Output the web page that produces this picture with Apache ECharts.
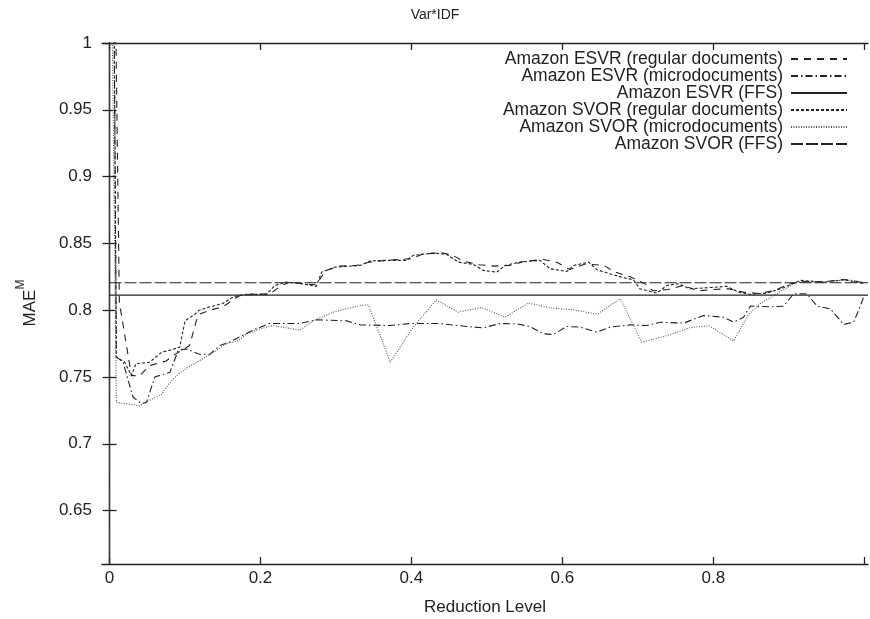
<!DOCTYPE html>
<html>
<head>
<meta charset="utf-8">
<script src="https://cdn.jsdelivr.net/npm/echarts@6/dist/echarts.min.js"></script>
<style>
  html, body { margin: 0; padding: 0; background: #fff; }
  #chart { width: 870px; height: 619px; }
</style>
</head>
<body>
<div id="chart"></div>
<script>
// tick positions (the "1" label sits on the cropped right edge in the original)
const xTicks = [0, 0.2, 0.4, 0.6, 0.8, 1];
const xLabels = [0, 0.2, 0.4, 0.6, 0.8];
const yTicks = [0.65, 0.7, 0.75, 0.8, 0.85, 0.9, 0.95, 1];

const seriesNames = [
  'Amazon ESVR (regular documents)',
  'Amazon ESVR (microdocuments)',
  'Amazon ESVR (FFS)',
  'Amazon SVOR (regular documents)',
  'Amazon SVOR (microdocuments)',
  'Amazon SVOR (FFS)'
];

// [reduction level, MAE]
const esvrRegular = [
  [0.004, 1.2], [0.013, 0.806], [0.029, 0.751], [0.04, 0.751], [0.053, 0.7585], [0.075, 0.762],
  [0.084, 0.766], [0.106, 0.7735], [0.115, 0.792], [0.119, 0.797], [0.133, 0.800], [0.15, 0.8025],
  [0.1725, 0.811], [0.19, 0.812], [0.212, 0.812], [0.228, 0.8185], [0.239, 0.821], [0.26, 0.8195],
  [0.274, 0.819], [0.286, 0.8295], [0.305, 0.833], [0.327, 0.8335], [0.345, 0.836], [0.372, 0.8375],
  [0.40, 0.8385], [0.415, 0.842], [0.44, 0.843], [0.455, 0.841], [0.47, 0.8365], [0.49, 0.834],
  [0.51, 0.833], [0.53, 0.8335], [0.55, 0.8365], [0.575, 0.838], [0.592, 0.836], [0.61, 0.8305],
  [0.63, 0.8345], [0.655, 0.8335], [0.67, 0.8285], [0.69, 0.825], [0.71, 0.8195], [0.72, 0.8145],
  [0.74, 0.8155], [0.76, 0.8185], [0.78, 0.8145], [0.80, 0.8155], [0.82, 0.816], [0.84, 0.8135],
  [0.86, 0.8125], [0.88, 0.8145], [0.90, 0.8195], [0.92, 0.8215], [0.95, 0.8215], [0.975, 0.823],
  [1.0, 0.8205]
];

const esvrMicro = [
  [0.004, 1.2], [0.009, 0.765], [0.018, 0.761], [0.031, 0.735], [0.042, 0.730], [0.049, 0.731],
  [0.06, 0.750], [0.08, 0.7535], [0.091, 0.770], [0.102, 0.771], [0.119, 0.767], [0.133, 0.767],
  [0.146, 0.7735], [0.159, 0.776], [0.1725, 0.780], [0.19, 0.785], [0.212, 0.790], [0.252, 0.790],
  [0.274, 0.7928], [0.314, 0.792], [0.332, 0.789], [0.3715, 0.7885], [0.398, 0.790], [0.438, 0.790],
  [0.473, 0.7878], [0.4953, 0.7868], [0.5174, 0.790], [0.5396, 0.7898], [0.557, 0.7878], [0.575, 0.7823],
  [0.588, 0.7818], [0.606, 0.7878], [0.6236, 0.7873], [0.6457, 0.7835], [0.663, 0.7873], [0.69, 0.789],
  [0.712, 0.7885], [0.7297, 0.791], [0.7606, 0.7903], [0.787, 0.796], [0.8137, 0.7947], [0.827, 0.791],
  [0.840, 0.7947], [0.849, 0.803], [0.8756, 0.8025], [0.893, 0.803], [0.9065, 0.8123], [0.924, 0.8123],
  [0.9376, 0.803], [0.955, 0.801], [0.973, 0.7893], [0.986, 0.791], [0.995, 0.8035], [1.0, 0.811]
];

const esvrFfs = [[0, 0.8113], [1.005, 0.8113]];

const svorRegular = [
  [0.004, 1.2], [0.009, 0.765], [0.02, 0.761], [0.029, 0.751], [0.035, 0.760], [0.053, 0.761],
  [0.069, 0.7685], [0.08, 0.770], [0.093, 0.7723], [0.1, 0.792], [0.113, 0.797], [0.119, 0.80],
  [0.1327, 0.8025], [0.150, 0.805], [0.164, 0.810], [0.181, 0.8118], [0.208, 0.8118], [0.219, 0.8185],
  [0.234, 0.821], [0.252, 0.820], [0.274, 0.8178], [0.281, 0.8285], [0.2985, 0.8322], [0.314, 0.8328],
  [0.332, 0.8335], [0.345, 0.8368], [0.3626, 0.8373], [0.3936, 0.8373], [0.4024, 0.841], [0.429, 0.8428],
  [0.4467, 0.8418], [0.462, 0.836], [0.482, 0.8343], [0.495, 0.8298], [0.513, 0.8285], [0.524, 0.8335],
  [0.544, 0.836], [0.5705, 0.8373], [0.5837, 0.831], [0.606, 0.829], [0.615, 0.8335], [0.635, 0.836],
  [0.6457, 0.8303], [0.663, 0.8273], [0.681, 0.8243], [0.694, 0.8228], [0.703, 0.816], [0.725, 0.8128],
  [0.7385, 0.8185], [0.754, 0.8198], [0.769, 0.816], [0.7917, 0.8168], [0.818, 0.8178], [0.8336, 0.8135],
  [0.849, 0.8118], [0.871, 0.8128], [0.893, 0.8168], [0.9154, 0.8223], [0.946, 0.821], [0.973, 0.8228],
  [1.0, 0.8198]
];

const svorMicro = [
  [0, 0.55], [0, 1.2], [0.009, 0.731], [0.04, 0.7285], [0.051, 0.732], [0.069, 0.737], [0.08, 0.746],
  [0.093, 0.753], [0.106, 0.758], [0.128, 0.765], [0.142, 0.770], [0.155, 0.775], [0.17, 0.777],
  [0.181, 0.782], [0.199, 0.786], [0.217, 0.7885], [0.252, 0.785], [0.27, 0.792], [0.296, 0.7985],
  [0.332, 0.8035], [0.343, 0.804], [0.372, 0.761], [0.402, 0.787], [0.433, 0.8077], [0.462, 0.7985],
  [0.493, 0.802], [0.524, 0.7947], [0.555, 0.8053], [0.584, 0.8017], [0.615, 0.8003], [0.646, 0.797],
  [0.677, 0.8085], [0.705, 0.776], [0.739, 0.781], [0.770, 0.787], [0.794, 0.7885], [0.827, 0.777],
  [0.847, 0.797], [0.862, 0.8048], [0.884, 0.8123], [0.911, 0.821], [0.946, 0.821], [0.977, 0.8228],
  [1.0, 0.821]
];

const svorFfs = [[0, 0.8205], [1.005, 0.8205]];

const FONT = 'Liberation Sans';
const INK = '#222';

let chart = echarts.init(document.getElementById('chart'), null, { renderer: 'canvas' });

let lineSeries = function (name, data, type, color) {
  return {
    name: name,
    type: 'line',
    data: data,
    symbol: 'none',
    clip: true,
    silent: true,
    lineStyle: { color: color || INK, width: 1.1, type: type },
    itemStyle: { color: color || INK }
  };
};

let axisCommon = {
  axisLine: { show: true, lineStyle: { color: INK, width: 1.3 } },
  axisTick: { show: true, inside: true, length: 7, lineStyle: { color: INK, width: 1.3 } },
  splitLine: { show: false }
};

const option = {
  animation: false,
  backgroundColor: '#fff',
  textStyle: { fontFamily: FONT },
  title: {
    text: 'Var*IDF',
    left: 430,
    top: 3,
    textAlign: 'center',
    textStyle: { fontFamily: FONT, fontSize: 14, fontWeight: 'normal', color: INK }
  },
  grid: { left: 102, right: 2, top: 43, bottom: 55, outerBoundsMode: 'none' },
  legend: {
    orient: 'vertical',
    align: 'right',
    right: 22,
    top: 50,
    padding: 0,
    itemWidth: 56,
    itemHeight: 10,
    itemGap: -1,
    selectedMode: false,
    itemStyle: { opacity: 0 },
    data: seriesNames,
    textStyle: { fontFamily: FONT, fontSize: 17.5, color: INK, lineHeight: 17, padding: [0, 3, 0, 0] }
  },
  xAxis: [
    Object.assign({}, axisCommon, {
      type: 'value', min: -0.01, max: 1.005, position: 'bottom',
      name: 'Reduction Level', nameLocation: 'middle', nameGap: 35,
      nameTextStyle: { fontFamily: FONT, fontSize: 17, color: INK },
      axisTick: Object.assign({}, axisCommon.axisTick, { customValues: xTicks }),
      axisLabel: {
        customValues: xLabels, margin: 6, fontFamily: FONT, fontSize: 17, color: INK,
        formatter: function (v) { return String(+v.toFixed(2)); }
      }
    }),
    Object.assign({}, axisCommon, {
      type: 'value', min: -0.01, max: 1.005, position: 'top',
      axisTick: Object.assign({}, axisCommon.axisTick, { customValues: xTicks }),
      axisLabel: { show: false }
    })
  ],
  yAxis: [
    Object.assign({}, axisCommon, {
      type: 'value', min: 0.61, max: 1.0, position: 'left',
      axisTick: Object.assign({}, axisCommon.axisTick, { customValues: yTicks }),
      axisLabel: {
        customValues: yTicks, margin: 10, fontFamily: FONT, fontSize: 17, color: INK,
        formatter: function (v) { return String(+v.toFixed(2)); }
      }
    }),
    Object.assign({}, axisCommon, {
      type: 'value', min: 0.61, max: 1.0, position: 'right',
      axisTick: Object.assign({}, axisCommon.axisTick, { customValues: yTicks }),
      axisLabel: { show: false }
    })
  ],
  graphic: [
    {
      type: 'text',
      x: 27,
      y: 303,
      rotation: Math.PI / 2,
      style: {
        text: '{a|MAE}{b|M}',
        align: 'center',
        verticalAlign: 'middle',
        fill: INK,
        rich: {
          a: { fontFamily: FONT, fontSize: 17, lineHeight: 24, verticalAlign: 'bottom', fill: INK },
          b: { fontFamily: FONT, fontSize: 12, lineHeight: 14, verticalAlign: 'top', fill: INK }
        }
      }
    }
  ],
  series: [
    lineSeries(seriesNames[0], esvrRegular, [7, 6]),
    lineSeries(seriesNames[1], esvrMicro, [7, 3, 1.5, 3]),
    lineSeries(seriesNames[2], esvrFfs, 'solid'),
    lineSeries(seriesNames[3], svorRegular, [3, 2]),
    lineSeries(seriesNames[4], svorMicro, [1, 1.5], '#555'),
    lineSeries(seriesNames[5], svorFfs, [12, 3])
  ]
};

chart.setOption(option);
</script>
</body>
</html>
